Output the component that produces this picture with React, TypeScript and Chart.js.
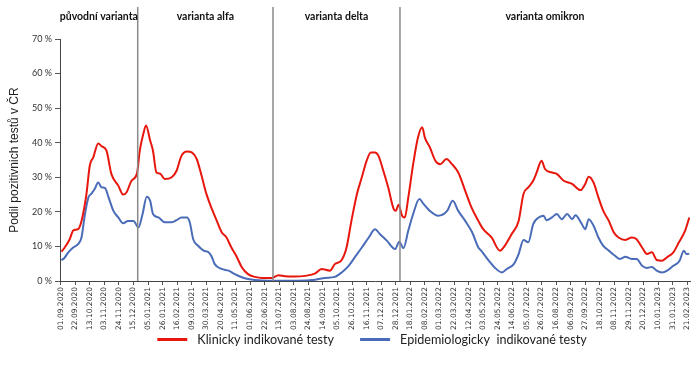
import React, { useEffect, useRef } from "react";
import { Chart, registerables } from "chart.js";

Chart.register(...registerables);

// day 0 = 01.09.2020
const START_UTC = Date.UTC(2020, 8, 1);
const X_MIN = -1;
const X_MAX = 907;
const TICK_STEP_DAYS = 21;
const Y_MAX = 70;
const Y_STEP = 10;

const clinicalDays = [1, 5, 13, 18, 25, 30, 37, 42, 47, 54, 59, 66, 73, 83, 90, 95, 102, 110, 114, 119, 123, 129, 133, 138, 143, 150, 160, 167, 174, 182, 189, 196, 203, 210, 218, 225, 232, 239, 246, 254, 261, 270, 280, 290, 304, 314, 323, 338, 352, 367, 376, 388, 395, 405, 412, 419, 427, 434, 441, 447, 453, 458, 465, 472, 480, 483, 487, 492, 496, 501, 508, 515, 521, 525, 532, 540, 547, 556, 564, 573, 583, 592, 602, 609, 621, 633, 640, 650, 660, 667, 674, 681, 686, 693, 698, 708, 715, 725, 737, 749, 756, 761, 768, 775, 782, 790, 797, 804, 814, 823, 830, 838, 845, 852, 859, 867, 874, 883, 891, 900, 906];
const clinicalValues = [8.5, 9.5, 12.1, 14.6, 15, 17.4, 25, 33.5, 35.8, 39.8, 39, 37.7, 31, 27.6, 25, 25.7, 29, 31.2, 37.7, 42.5, 45, 40.6, 37.7, 31.4, 31.1, 29.5, 30, 31.9, 36.2, 37.5, 37.2, 35.3, 30.5, 25.2, 20.8, 17.4, 14.1, 12.6, 9.7, 6.9, 4, 2, 1.2, 0.9, 0.9, 1.7, 1.4, 1.3, 1.5, 2.2, 3.5, 3.0, 4.9, 6.1, 9.7, 17.4, 25.2, 30, 34.8, 37.2, 37.2, 36.2, 31.9, 27.1, 20.8, 20.3, 22.1, 18.9, 18.4, 24.2, 33.8, 41.6, 44.5, 41.4, 38.7, 34.8, 33.8, 35.3, 33.8, 31.4, 26.1, 21.3, 17.4, 15, 12.6, 8.8, 10.2, 13.6, 17.4, 25.2, 27.1, 29, 31.4, 34.8, 32.4, 31.4, 31, 29, 28.1, 26.3, 28.1, 30.2, 28.5, 24.2, 20.3, 17.4, 14.1, 12.6, 11.9, 12.6, 12.1, 9.7, 7.8, 8.3, 6.1, 5.9, 6.9, 8.3, 11.2, 14.6, 18.4];

const epiDays = [1, 5, 11, 18, 25, 30, 35, 40, 44, 49, 54, 59, 64, 69, 76, 83, 90, 97, 105, 112, 118, 124, 129, 133, 141, 150, 160, 167, 174, 182, 186, 191, 198, 206, 213, 218, 222, 232, 242, 251, 261, 270, 280, 300, 340, 367, 381, 395, 405, 415, 424, 434, 444, 453, 460, 470, 482, 488, 494, 501, 508, 517, 523, 532, 544, 557, 565, 573, 583, 593, 602, 606, 617, 626, 636, 643, 653, 660, 667, 674, 681, 689, 696, 700, 708, 715, 722, 730, 737, 742, 751, 756, 761, 768, 775, 782, 790, 799, 806, 814, 823, 830, 838, 845, 852, 859, 867, 874, 883, 892, 898, 902, 906];
const epiValues = [6, 6.6, 8.3, 9.7, 10.7, 12.6, 19.4, 24.2, 25.2, 26.6, 28.5, 27.1, 26.9, 24.2, 20.3, 18.4, 16.7, 17.4, 17.4, 15.5, 19.4, 24.4, 23.2, 19.4, 18.4, 17, 17, 17.6, 18.4, 18.4, 17, 12.1, 10.2, 8.8, 8.3, 6.9, 4.9, 3.5, 3.0, 2.0, 1.1, 0.6, 0.3, 0.1, 0.1, 0.4, 0.9, 1.2, 2.5, 4.4, 6.9, 9.7, 12.6, 15, 13.6, 11.7, 9.3, 11.4, 9.5, 14.6, 19.4, 23.7, 22.3, 20.3, 18.9, 20.3, 23.2, 20.3, 17.4, 14.1, 9.7, 8.8, 5.9, 3.8, 2.5, 3.5, 4.9, 7.8, 11.9, 11.2, 16.5, 18.4, 18.9, 17.6, 18.4, 19.4, 17.9, 19.4, 17.9, 19, 16.5, 15, 17.9, 16, 12.6, 10.2, 8.8, 7.3, 6.4, 7.0, 6.4, 6.4, 4.4, 3.8, 4.1, 3.0, 2.5, 3.0, 4.4, 5.9, 8.8, 7.8, 7.9];

const variantBoundaryDays = [111, 306, 489];
const variantNames = ["původní varianta", "varianta alfa", "varianta delta", "varianta omikron"];
const seriesNames = ["Klinicky indikované testy", "Epidemiologicky  indikované testy"];
const seriesColors = ["#e8170d", "#4a6cb8"];
const yAxisTitle = "Podil pozitivnich testů v ČR";

function formatDay(v: number): string {
  const d = new Date(START_UTC + Math.round(v) * 86400000);
  const dd = String(d.getUTCDate()).padStart(2, "0");
  const mm = String(d.getUTCMonth() + 1).padStart(2, "0");
  return `${dd}.${mm}.${d.getUTCFullYear()}`;
}

const overlayPlugin = {
  id: "overlay",
  afterDatasetsDraw(chart: any) {
    const { ctx, chartArea, scales } = chart;
    const x = scales.x;
    ctx.save();
    ctx.strokeStyle = "#8a8a8a";
    ctx.lineWidth = 1.5;
    const xs = variantBoundaryDays.map((d) => x.getPixelForValue(d));
    xs.forEach((px: number) => {
      ctx.beginPath();
      ctx.moveTo(px, 7);
      ctx.lineTo(px, chartArea.bottom);
      ctx.stroke();
    });
    const edges = [chartArea.left, ...xs, chartArea.right];
    ctx.font = "bold 10.5px Lato";
    ctx.fillStyle = "#111";
    ctx.textAlign = "center";
    ctx.textBaseline = "middle";
    variantNames.forEach((n, i) => {
      ctx.fillText(n, (edges[i] + edges[i + 1]) / 2, 17);
    });

    // legend
    ctx.font = "12.6px Lato";
    ctx.textAlign = "left";
    const lineLen = 30;
    const textGap = 10;
    const itemGap = 26;
    const widths = seriesNames.map((s) => ctx.measureText(s).width);
    const total = widths.reduce((a, w) => a + lineLen + textGap + w, 0) + itemGap;
    let cx = (chartArea.left + chartArea.right) / 2 - 3 - total / 2;
    const ly = 339.5;
    seriesNames.forEach((s, i) => {
      ctx.strokeStyle = seriesColors[i];
      ctx.lineWidth = 3;
      ctx.beginPath();
      ctx.moveTo(cx, ly);
      ctx.lineTo(cx + lineLen, ly);
      ctx.stroke();
      ctx.fillStyle = "#222";
      ctx.fillText(s, cx + lineLen + textGap, ly);
      cx += lineLen + textGap + widths[i] + itemGap;
    });
    ctx.restore();
  },
};

export default function App() {
  const canvasRef = useRef<HTMLCanvasElement | null>(null);

  useEffect(() => {
    if (!canvasRef.current) return;
    const chart = new Chart(canvasRef.current, {
      type: "line",
      data: {
        datasets: [
          {
            label: seriesNames[0],
            data: clinicalDays.map((d, i) => ({ x: d, y: clinicalValues[i] })),
            borderColor: seriesColors[0],
            backgroundColor: seriesColors[0],
            borderWidth: 2,
            pointRadius: 0,
            cubicInterpolationMode: "monotone",
          },
          {
            label: seriesNames[1],
            data: epiDays.map((d, i) => ({ x: d, y: epiValues[i] })),
            borderColor: seriesColors[1],
            backgroundColor: seriesColors[1],
            borderWidth: 2,
            pointRadius: 0,
            cubicInterpolationMode: "monotone",
          },
        ],
      },
      options: {
        animation: false,
        responsive: false,
        devicePixelRatio: 1,
        layout: { padding: { top: 39, right: 9, bottom: 37, left: 0 } },
        plugins: {
          legend: { display: false },
          tooltip: { enabled: false },
        },
        scales: {
          x: {
            type: "linear",
            min: X_MIN,
            max: X_MAX,
            grid: {
              display: true,
              drawOnChartArea: false,
              drawTicks: true,
              tickLength: 4,
              color: "#555",
            },
            border: { display: true, color: "#444", width: 1 },
            ticks: {
              stepSize: TICK_STEP_DAYS,
              includeBounds: false,
              autoSkip: false,
              minRotation: 90,
              maxRotation: 90,
              padding: 2,
              color: "#333",
              font: { family: "DejaVu Sans", size: 7.5 },
              callback: (v: any) => formatDay(Number(v)),
            },
          },
          y: {
            min: 0,
            max: Y_MAX,
            afterFit: (s: any) => {
              s.width = 60;
            },
            grid: {
              display: true,
              drawOnChartArea: false,
              drawTicks: true,
              tickLength: 5,
              color: "#555",
            },
            border: { display: true, color: "#444", width: 1 },
            ticks: {
              stepSize: Y_STEP,
              padding: 3,
              color: "#333",
              font: { family: "Lato", size: 9 },
              callback: (v: any) => `${v} %`,
            },
            title: {
              display: true,
              text: yAxisTitle,
              color: "#222",
              font: { family: "Liberation Sans", size: 12 },
              padding: { top: 7, bottom: 0 },
            },
          },
        },
      },
      plugins: [overlayPlugin],
    } as any);
    return () => chart.destroy();
  }, []);

  return (
    <div style={{ position: "fixed", left: 0, top: 0, width: 699, height: 369, background: "#fff" }}>
      <canvas ref={canvasRef} width={699} height={369} style={{ display: "block" }} />
    </div>
  );
}
